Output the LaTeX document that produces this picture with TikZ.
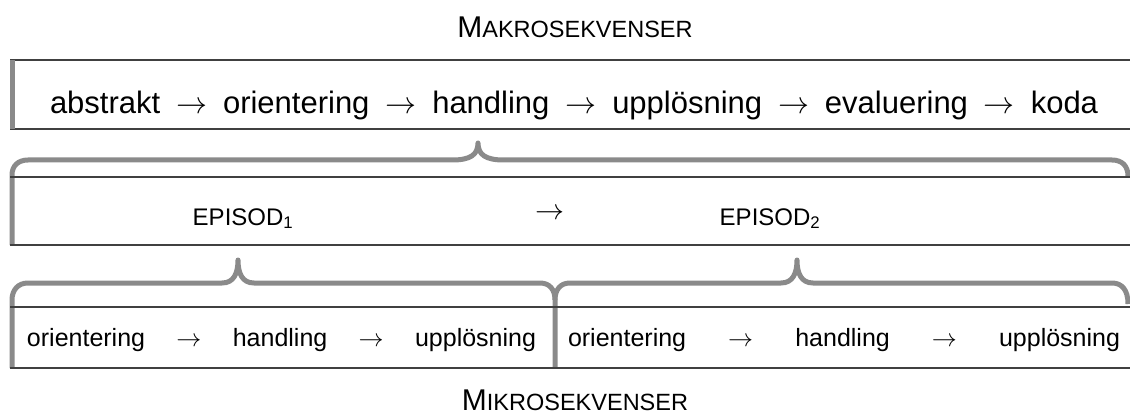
\documentclass[tikz,border=0pt]{standalone}
\usepackage{fix-cm}
\usepackage{fontspec}
\setmainfont{Liberation Sans}
\definecolor{bracegray}{RGB}{138,138,138}
\definecolor{rulegray}{RGB}{64,64,64}

% fake small caps: large initial, smaller capitals
\newcommand{\capsword}[2]{{\fontsize{30}{36}\selectfont #1}{\fontsize{23.5}{28}\selectfont #2}}
\newcommand{\seqrow}[4]{\makebox[#1][s]{#2\hfill$\rightarrow$\hfill #3\hfill$\rightarrow$\hfill #4}}

\begin{document}
\begin{tikzpicture}[
    x=1pt, y=-1pt,
    rule/.style={draw=rulegray, line width=1.3pt},
    bar/.style={draw=bracegray, line width=5pt},
    brace/.style={draw=bracegray, line width=5pt, line join=round},
    title/.style={anchor=base, inner sep=0pt},
    toprow/.style={anchor=base, inner sep=0pt, font=\fontsize{31}{37}\selectfont},
    midrow/.style={anchor=base, inner sep=0pt, font=\fontsize{24}{29}\selectfont},
    lowrow/.style={anchor=base, inner sep=0pt, font=\fontsize{25}{30}\selectfont},
]
\useasboundingbox (0,0) rectangle (1130,417);

% Makrosekvenser
\node[title] (makro) at (575,38) {\capsword{M}{AKROSEKVENSER}};

% makro rad
\draw[rule] (10,60) -- (1130,60);
\draw[rule] (10,129) -- (1130,129);
\draw[bar] (12,60) -- (12,129);
\node[toprow] (makrorad) at (574,114)
    {\makebox[1048pt][s]{abstrakt\hfill$\rightarrow$\hfill orientering\hfill$\rightarrow$\hfill handling\hfill$\rightarrow$\hfill upplösning\hfill$\rightarrow$\hfill evaluering\hfill$\rightarrow$\hfill koda}};

% stor klammer
\draw[brace] (12,245) -- (12,175)
    .. controls (12,166) and (18,160) .. (28,160) -- (452,160)
    .. controls (470,160) and (478,155) .. (478,143)
    .. controls (478,155) and (486,160) .. (504,160) -- (1112,160)
    .. controls (1122,160) and (1128,166) .. (1128,176);

% episoder
\draw[rule] (10,177) -- (1130,177);
\draw[rule] (10,245) -- (1130,245);
\node[midrow] (episod1) at (243,225) {EPISOD\textsubscript{1}};
\node[midrow, font=\fontsize{29}{34}\selectfont] (episodpil) at (550,219) {$\rightarrow$};
\node[midrow] (episod2) at (770,225) {EPISOD\textsubscript{2}};

% små klamrar
\draw[brace] (12,368) -- (12,300)
    .. controls (12,290) and (18,283) .. (28,283) -- (222,283)
    .. controls (234,283) and (238,273) .. (238,260)
    .. controls (238,273) and (242,283) .. (254,283) -- (540,283)
    .. controls (550,283) and (555,290) .. (555,300) -- (555,368);
\draw[brace] (555,300)
    .. controls (555,290) and (560,283) .. (570,283) -- (781,283)
    .. controls (793,283) and (797,273) .. (797,260)
    .. controls (797,273) and (801,283) .. (813,283) -- (1112,283)
    .. controls (1122,283) and (1128,290) .. (1128,304);

% mikro rad
\draw[rule] (10,307) -- (1130,307);
\draw[rule] (10,368) -- (1130,368);
\node[lowrow] (mikroA) at (281.5,346) {\seqrow{509pt}{orientering}{handling}{upplösning}};
\node[lowrow] (mikroB) at (844,346) {\seqrow{552pt}{orientering}{handling}{upplösning}};

% Mikrosekvenser
\node[title] (mikro) at (575,410) {\capsword{M}{IKROSEKVENSER}};

\end{tikzpicture}
\end{document}
